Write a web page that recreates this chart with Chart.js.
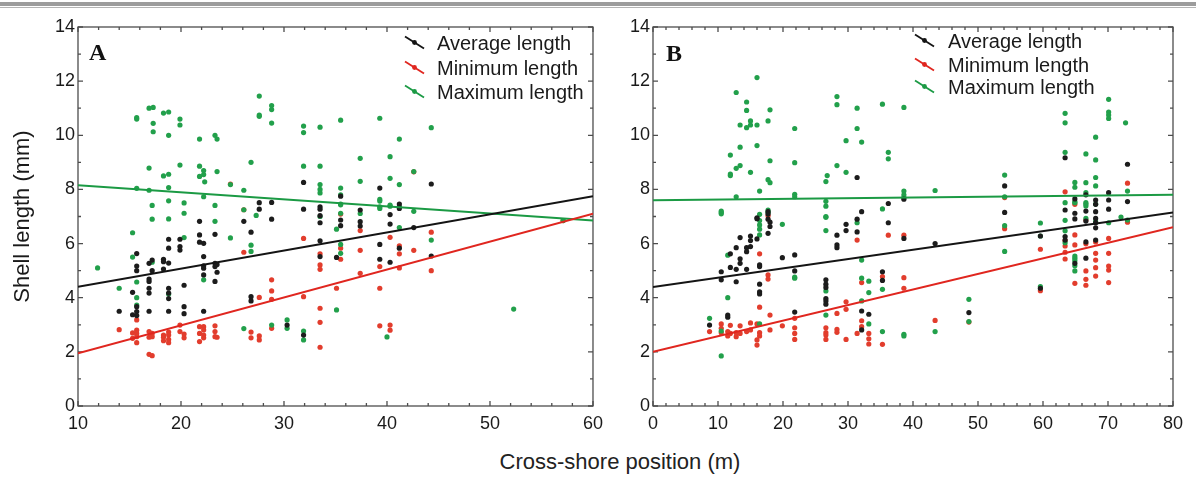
<!DOCTYPE html>
<html>
<head>
<meta charset="utf-8">
<script src="https://cdn.jsdelivr.net/npm/chart.js@4.4.1/dist/chart.umd.min.js"></script>
<style>
  body { margin: 0; background: #fff; width: 1196px; height: 477px; position: relative; overflow: hidden; font-family: "Liberation Sans", Arial, sans-serif; }
  .rule1 { position: absolute; left: 0; top: 2px; width: 1196px; height: 4px; background: #9c9c9c; }
  .rule2 { position: absolute; left: 0; top: 7px; width: 1196px; height: 1px; background: #b4b4b4; }
  #wrapA { position: absolute; left: 0; top: 0; width: 610px; height: 440px; }
  #wrapB { position: absolute; left: 600px; top: 0; width: 596px; height: 440px; }
  #xtitle { position: absolute; left: 0; width: 1240px; top: 449px; text-align: center; font-size: 22px; color: #222; }
</style>
</head>
<body>
<div class="rule1"></div><div class="rule2"></div>
<div id="wrapA"><canvas id="chartA"></canvas></div>
<div id="wrapB"><canvas id="chartB"></canvas></div>
<div id="xtitle">Cross-shore position (m)</div>
<script>
const seriesNames = ['Average length', 'Minimum length', 'Maximum length'];

// panel A
const aAvg = [[14.0,3.5],[15.3,4.2],[15.3,3.37],[15.7,5.63],[15.7,5.17],[15.7,5.0],[15.7,3.67],[15.7,3.49],[15.7,3.34],
  [16.9,5.27],[16.9,4.69],[16.9,4.6],[16.9,4.35],[16.9,4.17],[16.9,3.5],[17.2,5.39],[17.2,5.0],
  [18.3,5.42],[18.3,5.33],[18.3,5.06],[18.8,6.16],[18.8,5.83],[18.8,5.28],[18.8,4.35],[18.8,4.17],[18.8,3.97],[18.8,3.5],
  [19.9,6.16],[19.9,5.89],[19.9,5.76],[20.3,4.46],[20.3,3.67],[20.3,3.41],[21.8,6.82],[21.8,6.32],[21.8,6.05],
  [22.2,6.01],[22.2,5.52],[22.2,5.18],[22.2,5.09],[22.2,4.84],[22.2,3.5],[23.3,6.34],[23.3,5.27],[23.3,5.15],[23.3,4.6],
  [23.5,5.23],[23.5,4.94],[26.1,6.82],[26.8,6.42],[26.8,4.04],[26.8,3.88],[27.6,7.51],[27.6,7.27],[28.8,7.52],[28.8,6.9],
  [30.3,2.99],[31.9,8.26],[31.9,7.27],[31.9,2.62],[33.5,7.36],[33.5,7.27],[33.5,7.03],[33.5,6.77],[33.5,6.1],[33.5,5.52],
  [35.1,5.49],[35.5,7.75],[35.5,6.87],[35.5,6.66],[37.4,7.24],[37.4,6.81],[37.4,6.65],[39.3,8.05],[39.3,5.97],[39.3,5.42],
  [40.3,7.07],[40.3,6.72],[40.3,5.31],[41.2,7.46],[41.2,7.3],[41.2,5.83],[42.6,6.59],[44.3,8.2],[44.3,5.54]];
const aMin = [[14.0,2.82],[15.3,2.7],[15.3,2.5],[15.7,3.18],[15.7,2.8],[15.7,2.68],[15.7,2.56],[15.7,2.34],
  [16.9,2.75],[16.9,2.54],[16.9,1.91],[17.2,2.68],[17.2,2.56],[17.2,1.86],[18.3,2.62],[18.3,2.54],[18.3,2.41],
  [18.8,2.73],[18.8,2.62],[18.8,2.46],[18.8,2.34],[19.9,2.99],[19.9,2.75],[20.3,2.66],[20.3,2.52],
  [21.8,2.93],[21.8,2.68],[21.8,2.38],[22.2,2.93],[22.2,2.81],[22.2,2.62],[22.2,2.52],[23.3,2.96],[23.3,2.75],[23.3,2.56],[23.5,2.54],
  [24.8,8.2],[26.1,7.25],[26.1,5.68],[26.8,2.73],[26.8,2.52],[27.6,4.01],[27.6,2.59],[27.6,2.44],
  [28.8,4.66],[28.8,4.25],[28.8,3.94],[28.8,2.87],[31.9,6.19],[31.9,4.04],
  [33.5,5.62],[33.5,5.21],[33.5,5.05],[33.5,3.61],[33.5,3.09],[33.5,2.17],[35.1,4.35],[35.5,7.09],[35.5,5.83],[35.5,5.42],
  [37.4,6.48],[37.4,5.75],[37.4,4.9],[39.3,5.15],[39.3,4.35],[39.3,2.96],[40.3,6.23],[40.3,2.99],[40.3,2.8],
  [41.2,5.92],[41.2,5.62],[41.2,5.1],[42.6,8.65],[42.6,5.75],[44.3,6.42],[44.3,5.0],[57.1,6.85]];
const aMax = [[11.9,5.1],[14.0,4.35],[15.3,6.4],[15.3,5.5],[15.7,10.6],[15.7,10.65],[15.7,8.04],[15.7,4.58],[15.7,4.0],[15.7,3.73],
  [16.9,11.0],[16.9,8.79],[16.9,7.97],[17.3,11.03],[17.3,10.44],[17.3,10.13],[17.2,7.41],[17.2,6.9],[17.2,5.31],
  [18.3,10.82],[18.3,8.5],[18.8,10.86],[18.8,10.0],[18.8,8.56],[18.8,8.07],[18.8,7.58],[18.8,6.91],[18.8,4.14],
  [19.9,10.6],[19.9,10.38],[19.9,8.9],[20.3,7.5],[20.3,7.12],[20.3,6.22],[21.8,9.86],[21.8,8.86],[21.8,8.48],
  [22.2,8.7],[22.2,8.55],[22.3,8.28],[22.2,7.73],[22.2,4.66],[23.3,10.0],[23.5,9.86],[23.5,8.66],[23.3,7.41],[23.3,6.82],
  [24.8,8.18],[24.8,6.21],[26.1,7.97],[26.1,7.25],[26.1,2.86],[26.8,9.0],[26.8,5.94],[26.8,5.71],[27.3,7.04],
  [27.6,11.45],[27.6,10.75],[27.6,10.7],[28.8,11.1],[28.8,10.95],[28.8,10.45],[28.8,2.99],[30.3,3.18],[30.3,2.87],
  [31.9,10.34],[31.9,10.1],[31.9,8.86],[31.9,2.77],[31.9,2.44],[33.5,10.3],[33.5,8.86],[33.5,8.18],[33.5,8.0],[33.5,7.87],[33.5,7.0],
  [35.1,6.53],[35.1,3.55],[35.5,10.56],[35.5,8.05],[35.5,7.8],[35.5,7.46],[35.5,7.43],[35.5,7.12],[35.5,5.97],[35.5,5.64],
  [37.4,9.15],[37.4,8.3],[37.4,7.11],[39.3,10.63],[39.3,7.63],[39.3,7.36],[39.3,7.57],[39.3,7.3],[40.0,2.55],
  [40.3,9.21],[40.3,8.41],[40.3,7.42],[40.3,7.38],[41.2,9.86],[41.2,8.18],[41.2,7.37],[41.2,6.59],
  [42.6,8.66],[42.6,7.19],[44.3,10.28],[44.3,6.13],[52.3,3.58],[57.1,6.85]];
const aFitAvg = [[10, 4.4], [60, 7.75]];
const aFitMin = [[10, 1.95], [60, 7.1]];
const aFitMax = [[10, 8.15], [60, 6.85]];

// panel B
const bAvg = [[8.7,2.99],[10.5,4.96],[10.5,4.66],[11.5,3.36],[11.5,3.28],[11.9,5.62],[11.9,5.12],
  [12.8,5.85],[12.8,5.05],[12.8,4.59],[13.4,6.22],[13.4,5.44],[13.4,5.27],[14.4,5.85],[14.4,5.7],[14.4,5.05],
  [15.0,6.28],[15.0,6.11],[15.0,5.89],[16.0,6.95],[16.0,6.92],[16.0,6.17],[16.4,5.21],[16.4,5.15],[16.4,4.5],[16.4,4.22],[16.4,4.14],
  [17.7,7.18],[17.7,7.09],[17.7,6.9],[17.7,6.38],[18.0,6.79],[18.0,6.63],[19.9,5.48],[21.8,5.58],[21.8,4.99],[21.8,3.47],
  [26.6,4.66],[26.6,4.5],[26.6,4.38],[26.6,3.97],[26.6,3.88],[26.6,3.76],[28.3,6.31],[28.3,5.95],[28.3,5.85],
  [29.7,6.71],[29.7,6.48],[31.4,8.44],[31.4,6.9],[31.4,6.43],[32.1,7.18],[32.1,3.51],[32.1,2.81],[33.2,3.39],
  [35.3,4.96],[35.3,4.64],[36.2,7.48],[36.2,6.77],[38.6,7.64],[38.6,6.19],[43.4,6.0],[48.6,3.45],
  [54.1,8.13],[54.1,7.15],[59.6,6.28],[59.6,4.35],[63.4,9.17],[63.4,7.24],[63.4,6.26],[63.4,6.13],
  [64.9,7.65],[64.9,7.12],[64.9,6.91],[64.9,5.27],[66.6,7.8],[66.6,7.2],[66.6,6.83],[66.6,6.06],[66.6,5.46],
  [68.1,7.61],[68.1,7.45],[68.1,7.18],[68.1,6.93],[68.1,6.77],[68.1,6.58],[68.1,6.13],[70.1,7.88],[70.1,7.61],[70.1,7.27],
  [73.0,8.93],[73.0,7.55]];
const bMin = [[8.7,2.75],[10.5,3.03],[10.5,2.87],[10.5,2.71],[11.5,2.75],[11.5,2.59],[11.9,2.98],[11.9,2.68],
  [12.8,2.71],[12.8,2.56],[13.4,2.96],[13.4,2.68],[14.4,2.75],[15.0,3.07],[15.0,2.81],[16.0,3.03],[16.0,2.44],[16.0,2.25],
  [16.4,5.62],[16.4,3.65],[16.4,2.71],[16.4,2.59],[17.7,7.03],[17.7,4.84],[17.7,4.69],[18.0,3.36],[18.0,2.81],[19.9,2.96],
  [21.8,3.24],[21.8,2.89],[21.8,2.68],[21.8,2.46],[26.6,2.89],[26.6,2.71],[26.6,2.62],[26.6,2.46],
  [28.3,3.42],[28.3,2.83],[28.3,2.72],[29.7,3.85],[29.7,3.57],[29.7,2.46],[31.4,6.13],[31.4,2.68],
  [32.1,4.56],[32.1,3.15],[32.1,2.93],[33.2,2.68],[33.2,2.48],[33.2,2.29],[35.3,4.78],[35.3,2.28],[36.2,6.31],
  [38.6,6.31],[38.6,4.74],[38.6,4.35],[43.4,3.16],[48.6,3.1],[54.1,7.7],[54.1,6.55],[59.6,5.79],[59.6,4.26],
  [63.4,7.91],[63.4,6.11],[63.4,5.91],[63.4,5.68],[63.4,5.43],[64.9,7.45],[64.9,6.32],[64.9,5.95],[64.9,4.53],
  [66.6,6.87],[66.6,5.99],[66.6,4.99],[66.6,4.68],[66.6,4.46],[68.1,6.06],[68.1,5.64],[68.1,5.39],[68.1,5.11],[68.1,4.8],
  [70.1,6.19],[70.1,5.64],[70.1,5.17],[70.1,5.02],[70.1,4.56],[73.0,8.23],[73.0,6.79]];
const bMax = [[8.7,3.24],[10.5,7.2],[10.5,7.1],[10.5,7.15],[10.5,2.77],[10.5,1.85],[11.5,5.57],[11.5,4.0],
  [11.9,9.27],[11.9,8.57],[11.9,8.51],[12.8,11.58],[12.8,8.78],[12.8,7.73],[13.4,10.38],[13.4,9.56],[13.4,8.88],
  [14.4,11.23],[14.4,10.92],[14.4,10.28],[15.0,10.53],[15.0,10.38],[15.0,8.63],[16.0,12.13],[16.0,10.38],[16.0,9.62],
  [16.4,7.94],[16.4,7.08],[16.4,6.85],[16.4,6.69],[16.4,6.53],[16.4,6.32],[16.4,3.03],
  [17.7,10.53],[17.7,8.36],[17.7,7.24],[17.7,7.16],[18.0,10.94],[18.0,9.06],[18.0,8.25],[19.9,6.71],
  [21.8,10.25],[21.8,8.99],[21.8,7.82],[21.8,7.73],[21.8,4.72],[21.8,4.76],
  [26.6,8.29],[26.8,8.51],[26.6,7.56],[26.6,7.38],[26.6,7.0],[26.6,6.97],[26.6,6.48],[26.6,4.25],[26.6,3.36],
  [28.3,11.43],[28.3,11.13],[28.3,8.88],[29.7,9.8],[29.7,8.63],[31.4,11.0],[31.4,10.25],[31.4,6.77],
  [32.1,9.75],[32.1,5.39],[32.1,4.72],[32.1,3.88],[33.2,4.61],[33.2,4.19],[33.2,3.03],
  [35.3,11.15],[35.3,7.28],[35.3,4.31],[35.3,2.75],[36.2,9.37],[36.2,9.13],
  [38.6,11.03],[38.6,7.94],[38.6,7.8],[38.6,7.7],[38.6,2.65],[38.6,2.59],[43.4,7.96],[43.4,2.75],[48.6,3.94],[48.6,3.12],
  [54.1,8.53],[54.1,7.73],[54.1,6.66],[54.1,5.71],[59.6,6.76],[59.6,6.28],[59.6,4.41],
  [63.4,10.81],[63.4,10.46],[63.4,9.37],[63.4,7.51],[63.4,6.86],[63.4,6.47],[63.4,6.03],
  [64.9,8.26],[64.9,8.08],[64.9,7.51],[64.9,7.54],[64.9,5.54],[64.9,5.46],[64.9,5.37],[64.9,5.18],[64.9,4.99],
  [66.6,9.31],[66.6,8.25],[66.6,7.88],[66.6,7.51],[66.6,7.39],[66.6,7.46],[66.6,6.93],
  [68.1,9.93],[68.1,9.09],[68.1,8.44],[68.1,8.13],[68.1,7.46],[68.1,6.81],
  [70.1,11.33],[70.1,10.86],[70.1,10.75],[70.1,10.62],[70.1,6.77],[72.0,6.98],[72.7,10.46],[73.0,7.94],[73.0,6.87]];
const bFitAvg = [[0, 4.4], [80, 7.15]];
const bFitMin = [[0, 2.0], [80, 6.6]];
const bFitMax = [[0, 7.6], [80, 7.8]];

const DOT = { avg: '#1c1c1c', min: '#e23d2d', max: '#22a04b' };
const LINE = { avg: '#141414', min: '#e0261f', max: '#1b9a44' };
const FONT = '"Liberation Sans", Arial, sans-serif';

function pts(arr) { return arr.map(([x, y]) => ({ x, y })); }

function buildDatasets(avg, min, max, fitAvg, fitMin, fitMax) {
  const fit = (d, c) => ({ data: pts(d), showLine: true, borderColor: c, borderWidth: 2, pointRadius: 0, order: 0 });
  const dots = (d, c, o) => ({ data: pts(d), backgroundColor: c, borderWidth: 0, pointRadius: 2.6, order: o });
  return [
    fit(fitAvg, LINE.avg), fit(fitMin, LINE.min), fit(fitMax, LINE.max),
    dots(avg, DOT.avg, 1), dots(max, DOT.max, 2), dots(min, DOT.min, 3),
  ];
}

// box with inward ticks, panel letter and in-plot legend
const framePlugin = {
  id: 'frame',
  beforeDatasetsDraw(chart, args, o) {
    const { ctx, chartArea: a, scales: { x, y } } = chart;
    ctx.save();
    ctx.strokeStyle = '#4d4d4d';
    ctx.lineWidth = 1.3;
    ctx.strokeRect(a.left, a.top, a.right - a.left, a.bottom - a.top);
    ctx.beginPath();
    for (let v = x.min; v <= x.max + 1e-6; v += 2) {
      const px = x.getPixelForValue(v);
      const len = Math.abs(v % 10) < 1e-6 ? 5 : 3;
      ctx.moveTo(px, a.bottom); ctx.lineTo(px, a.bottom - len);
      ctx.moveTo(px, a.top); ctx.lineTo(px, a.top + len);
    }
    for (let v = y.min; v <= y.max + 1e-6; v += 1) {
      const py = y.getPixelForValue(v);
      const len = v % 2 === 0 ? 5 : 3;
      ctx.moveTo(a.left, py); ctx.lineTo(a.left + len, py);
      ctx.moveTo(a.right, py); ctx.lineTo(a.right - len, py);
    }
    ctx.stroke();
    ctx.restore();
  },
  afterDraw(chart, args, o) {
    const { ctx } = chart;
    ctx.save();
    ctx.fillStyle = '#111';
    ctx.font = 'bold 24px "Liberation Serif", "Times New Roman", serif';
    ctx.textBaseline = 'alphabetic';
    ctx.fillText(o.letter, o.letterX, o.letterY);
    const colors = [LINE.avg, LINE.min, LINE.max];
    ctx.font = '20px ' + FONT;
    ctx.textBaseline = 'middle';
    seriesNames.forEach((name, i) => {
      const cy = o.rows[i];
      ctx.strokeStyle = colors[i];
      ctx.fillStyle = colors[i];
      ctx.lineWidth = 1.8;
      ctx.beginPath();
      ctx.moveTo(o.symX, cy - 7.5);
      ctx.lineTo(o.symX + 19, cy + 4.5);
      ctx.stroke();
      ctx.beginPath();
      ctx.arc(o.symX + 9.5, cy - 1.5, 2.4, 0, Math.PI * 2);
      ctx.fill();
      ctx.fillStyle = '#1a1a1a';
      ctx.fillText(name, o.textX, cy);
    });
    ctx.restore();
  },
};

function makeChart(id, cfg) {
  return new Chart(document.getElementById(id), {
    type: 'scatter',
    data: { datasets: buildDatasets(...cfg.series) },
    options: {
      responsive: true,
      maintainAspectRatio: false,
      animation: false,
      events: [],
      layout: { padding: { top: 27, right: cfg.padRight, left: 0, bottom: 0 } },
      plugins: { legend: { display: false }, tooltip: { enabled: false }, frame: cfg.frame },
      scales: {
        x: {
          type: 'linear', min: cfg.xMin, max: cfg.xMax,
          grid: { display: false, drawTicks: false }, border: { display: false },
          ticks: { stepSize: 10, padding: 7, color: '#1a1a1a', font: { family: FONT, size: 18 } },
          afterFit: (s) => { s.height = 34; },
        },
        y: {
          type: 'linear', min: 0, max: 14,
          grid: { display: false, drawTicks: false }, border: { display: false },
          ticks: { stepSize: 2, padding: 3, color: '#1a1a1a', font: { family: FONT, size: 18 } },
          title: cfg.yTitle
            ? { display: true, text: 'Shell length (mm)', color: '#1a1a1a', font: { family: FONT, size: 22 }, padding: { top: 10, bottom: 0 } }
            : { display: false },
          afterFit: (s) => { s.width = cfg.yWidth; },
        },
      },
    },
    plugins: [framePlugin],
  });
}

makeChart('chartA', {
  series: [aAvg, aMin, aMax, aFitAvg, aFitMin, aFitMax],
  xMin: 10, xMax: 60, padRight: 13, yWidth: 78, yTitle: true,
  frame: { letter: 'A', letterX: 89, letterY: 60, symX: 405, textX: 437, rows: [44, 69, 93] },
});

makeChart('chartB', {
  series: [bAvg, bMin, bMax, bFitAvg, bFitMin, bFitMax],
  xMin: 0, xMax: 80, padRight: 23, yWidth: 53, yTitle: false,
  frame: { letter: 'B', letterX: 66, letterY: 61, symX: 315, textX: 348, rows: [42, 66, 88] },
});
</script>
</body>
</html>
